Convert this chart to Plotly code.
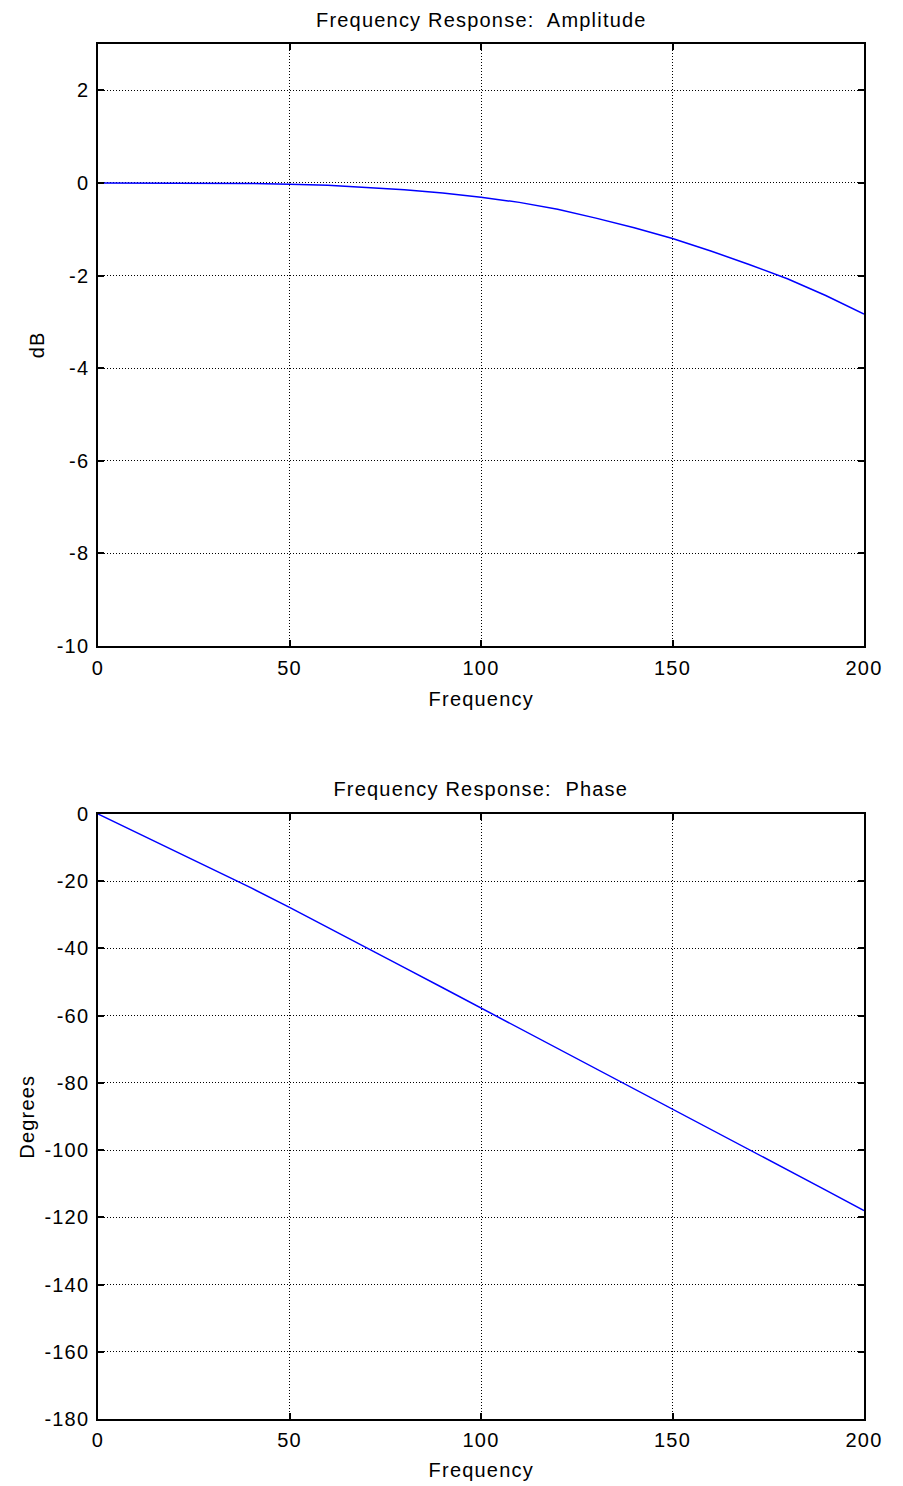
import plotly.graph_objects as go

# Data
freq = [0, 10, 20, 30, 40, 50, 60, 70, 80, 90, 100, 110, 120, 130, 140, 150,
        160, 170, 180, 190, 200]
amp_db = [0.0, 0.0, 0.0, -0.005, -0.01, -0.03, -0.05, -0.10, -0.15, -0.22,
          -0.31, -0.42, -0.57, -0.76, -0.97, -1.20, -1.47, -1.76, -2.07,
          -2.43, -2.83]
phase_deg = [0.0, -5.5, -11.0, -16.4, -22.0, -27.8, -33.7, -39.7, -45.7,
             -51.7, -57.7, -63.7, -69.7, -75.7, -81.7, -87.7, -93.7, -99.7,
             -105.8, -111.9, -118.0]

x_ticks = [0, 50, 100, 150, 200]
amp_ticks = [-10, -8, -6, -4, -2, 0, 2]
phase_ticks = [-180, -160, -140, -120, -100, -80, -60, -40, -20, 0]

W, H = 903, 1486
FONT = "Liberation Sans, Arial, Helvetica, sans-serif"
FS = 20

# plot-area pixel geometry
L, R = 98, 864
T1, B1 = 44, 646
T2, B2 = 814, 1419
MB = H - B2
PH = B2 - T1


def py(p):
    # pixel (from top) -> fraction of the plot area
    return (B2 - p) / PH


fig = go.Figure()
fig.add_trace(go.Scatter(x=freq, y=amp_db, mode="lines",
                         line=dict(color="#0000ff", width=1.5),
                         xaxis="x", yaxis="y", showlegend=False))
fig.add_trace(go.Scatter(x=freq, y=phase_deg, mode="lines",
                         line=dict(color="#0000ff", width=1.5),
                         xaxis="x2", yaxis="y2", showlegend=False))

axis_common = dict(
    showline=True, linecolor="black", linewidth=1.5, mirror="allticks",
    ticks="inside", ticklen=6, tickcolor="black", tickwidth=1.5,
    showgrid=True, gridcolor="black", gridwidth=1, griddash="1px,2px",
    zeroline=False, automargin=False,
    tickfont=dict(family=FONT, size=FS, color="black"),
)

fig.update_layout(
    width=W, height=H,
    margin=dict(l=L, r=W - R, t=T1, b=MB, pad=0),
    paper_bgcolor="white", plot_bgcolor="white",
    xaxis=dict(domain=[0, 1], range=[0, 200], tickvals=x_ticks,
               ticktext=[str(v) for v in x_ticks],
               anchor="y", ticklabelstandoff=3, **axis_common),
    yaxis=dict(domain=[py(B1), py(T1)], range=[-10, 3], tickvals=amp_ticks,
               ticktext=[str(v) for v in amp_ticks],
               anchor="x", ticklabelstandoff=3, **axis_common),
    xaxis2=dict(domain=[0, 1], range=[0, 200], tickvals=x_ticks,
                ticktext=[str(v) for v in x_ticks],
                anchor="y2", ticklabelstandoff=2, **axis_common),
    yaxis2=dict(domain=[py(B2), py(T2)], range=[-180, 0],
                tickvals=phase_ticks, ticktext=[str(v) for v in phase_ticks],
                anchor="x2", ticklabelstandoff=3, **axis_common),
)

ann = [
    ("Frequency Response:  Amplitude", (L + R) / 2, 20, 0),
    ("Frequency Response:  Phase", (L + R) / 2, 789, 0),
    ("Frequency", (L + R) / 2, 699, 0),
    ("Frequency", (L + R) / 2, 1470, 0),
    ("dB", 37, (T1 + B1) / 2, -90),
    ("Degrees", 26, (T2 + B2) / 2, -90),
]
for text, xp, ypx, ang in ann:
    fig.add_annotation(text=text, x=(xp - L) / (R - L), y=py(ypx),
                       xref="paper", yref="paper",
                       xanchor="center", yanchor="middle", showarrow=False,
                       textangle=ang,
                       font=dict(family=FONT, size=FS, color="black"))

post = """
document.body.style.margin = '0';
document.body.style.overflow = 'hidden';
var gd = document.getElementById('{plot_id}');
function ls(){ gd.querySelectorAll('text').forEach(function(t){ t.style.letterSpacing='1.2px'; }); }
ls(); setTimeout(ls, 0); setTimeout(ls, 200);
if (gd.on) { gd.on('plotly_afterplot', ls); }
"""

fig.write_html("out.html", post_script=post,
               config={"displayModeBar": False})
